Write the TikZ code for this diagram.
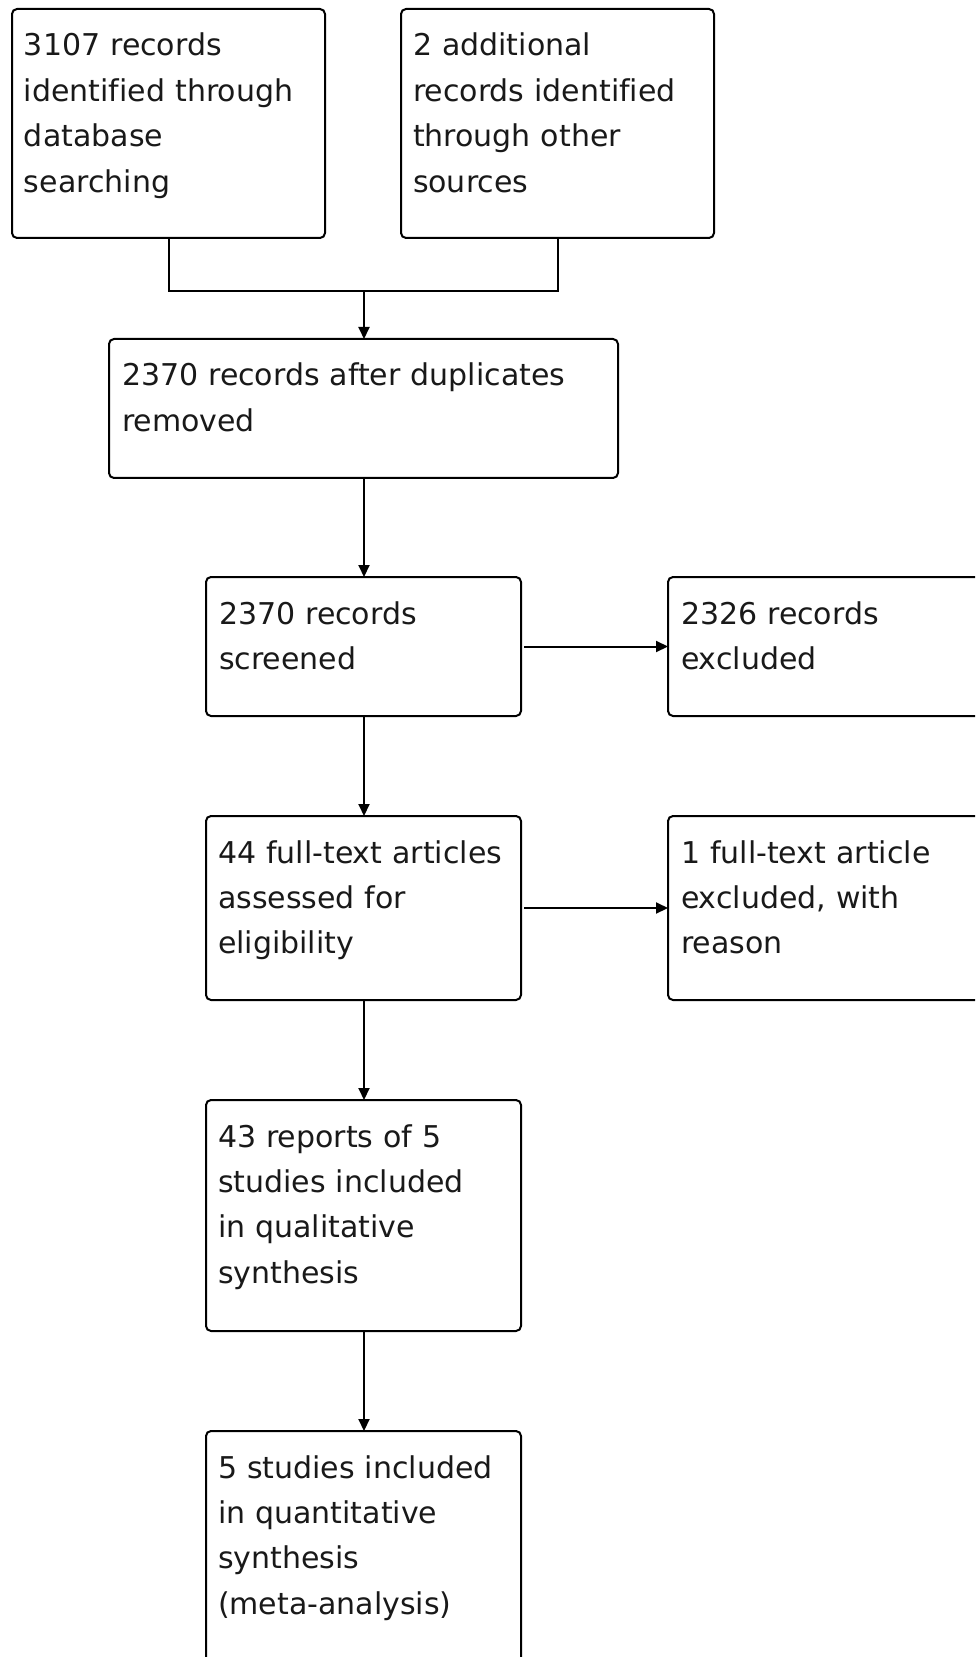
\documentclass[tikz,border=0pt]{standalone}
\usepackage{fontspec}
\setmainfont[Ligatures=NoCommon]{DejaVu Sans}
\usetikzlibrary{arrows.meta,calc}
\tikzset{
  box/.style={draw=black, line width=1pt, rounded corners=2.5pt, inner sep=0pt, outer sep=0pt, anchor=north west, fill=white},
  txt/.style={anchor=base west, inner sep=0pt, outer sep=0pt, align=left, text width=300pt, text=black!90, font=\fontsize{15}{22.7}\selectfont},
  conn/.style={draw=black, line width=1pt},
  arr/.style={conn, -{Triangle[length=6pt,width=5.5pt]}}
}
\begin{document}
\begin{tikzpicture}[x=0.5pt,y=-0.5pt]
\clip (0,0) rectangle (975,1657);
\fill[white] (0,0) rectangle (975,1657);
% boxes
\node[box, minimum width=156.5pt, minimum height=114.5pt] (b1) at (12,9) {};
\node[box, minimum width=156.5pt, minimum height=114.5pt] (b2) at (401,9) {};
\node[box, minimum width=254.5pt, minimum height=69.5pt] (b3) at (109,339) {};
\node[box, minimum width=157.5pt, minimum height=69.5pt] (b4) at (206,577) {};
\node[box, minimum width=200pt, minimum height=69.5pt] (b5) at (668,577) {};
\node[box, minimum width=157.5pt, minimum height=92pt] (b6) at (206,816) {};
\node[box, minimum width=200pt, minimum height=92pt] (b7) at (668,816) {};
\node[box, minimum width=157.5pt, minimum height=115.5pt] (b8) at (206,1100) {};
\node[box, minimum width=157.5pt, minimum height=150pt] (b9) at (206,1431) {};
% texts
\node[txt] (t1) at ([shift={(12,47)}]b1.north west) {3107 records\\identified through\\database\\searching};
\node[txt] (t2) at ([shift={(12,47)}]b2.north west) {2 additional\\records identified\\through other\\sources};
\node[txt] (t3) at ([shift={(13,47)}]b3.north west) {2370 records after duplicates\\removed};
\node[txt] (t4) at ([shift={(13,47)}]b4.north west) {2370 records\\screened};
\node[txt] (t5) at ([shift={(13,47)}]b5.north west) {2326 records\\excluded};
\node[txt] (t6) at ([shift={(12,47)}]b6.north west) {44 full-text articles\\assessed for\\eligibility};
\node[txt] (t7) at ([shift={(13,47)}]b7.north west) {1 full-text article\\excluded, with\\reason};
\node[txt] (t8) at ([shift={(12,47)}]b8.north west) {43 reports of 5\\studies included\\in qualitative\\synthesis};
\node[txt] (t9) at ([shift={(12,47)}]b9.north west) {5 studies included\\in quantitative\\synthesis\\(meta-analysis)};
% connectors
\coordinate (j) at (364,291);
\draw[conn] (b1.south) |- (j);
\draw[conn] (b2.south) |- (j);
\draw[arr] (j) -- (j |- b3.north);
\draw[arr] (b3.south -| j) -- (j |- b4.north);
\draw[arr] ([xshift=1.5pt]b4.east) -- (b4.east -| b5.west);
\draw[arr] (b4.south -| j) -- (j |- b6.north);
\draw[arr] ([xshift=1.5pt]b6.east) -- (b6.east -| b7.west);
\draw[arr] (b6.south -| j) -- (j |- b8.north);
\draw[arr] (b8.south -| j) -- (j |- b9.north);
\end{tikzpicture}
\end{document}
